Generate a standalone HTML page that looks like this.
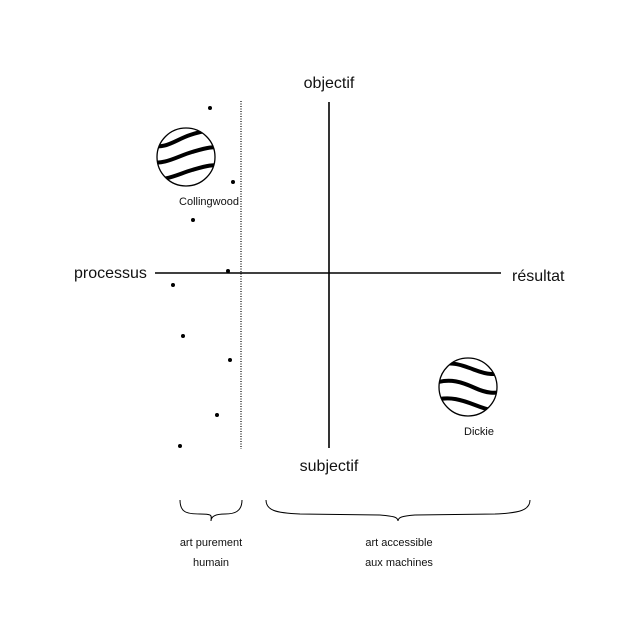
<!DOCTYPE html>
<html><head><style>body{margin:0;background:#fff}svg{display:block}text{font-family:"Liberation Sans",sans-serif;fill:#111}</style></head><body>
<svg width="642" height="642" viewBox="0 0 642 642">
<defs>
<clipPath id="c1"><circle cx="186" cy="157" r="29"/></clipPath>
<clipPath id="c2"><circle cx="468" cy="387" r="29"/></clipPath>
</defs>
<line x1="329" y1="102" x2="329" y2="448" stroke="#000" stroke-width="1.6"/>
<line x1="155" y1="273" x2="501" y2="273" stroke="#000" stroke-width="1.6"/>
<line x1="241" y1="101" x2="241" y2="449" stroke="#000" stroke-width="1.2" stroke-dasharray="1,1.5"/>
<g fill="#000">
<circle cx="210" cy="108" r="2"/><circle cx="233" cy="182" r="2"/><circle cx="193" cy="220" r="2"/>
<circle cx="228" cy="271" r="2"/><circle cx="173" cy="285" r="2"/><circle cx="183" cy="336" r="2"/>
<circle cx="230" cy="360" r="2"/><circle cx="217" cy="415" r="2"/><circle cx="180" cy="446" r="2"/>
</g>
<g clip-path="url(#c1)" fill="none" stroke="#000" stroke-width="4">
<path d="M150 145 C165 150,175 140,190 135 S210 130,225 132"/>
<path d="M150 162 C165 165,178 156,192 152 S212 146,225 148"/>
<path d="M150 178 C165 182,178 174,192 170 S212 164,225 166"/>
</g>
<circle cx="186" cy="157" r="29" fill="none" stroke="#000" stroke-width="1.3"/>
<g clip-path="url(#c2)" fill="none" stroke="#000" stroke-width="4">
<path d="M435 367 C450 360,462 365,475 370 S495 375,505 372"/>
<path d="M435 383 C450 378,462 382,475 388 S495 393,505 392"/>
<path d="M435 400 C450 396,462 400,475 405 S495 412,505 410"/>
</g>
<circle cx="468" cy="387" r="29" fill="none" stroke="#000" stroke-width="1.3"/>
<text x="329" y="88" font-size="16" text-anchor="middle">objectif</text>
<text x="329" y="471" font-size="16" text-anchor="middle">subjectif</text>
<text x="74" y="278" font-size="16">processus</text>
<text x="512" y="281" font-size="16">résultat</text>
<text x="209" y="205" font-size="11" text-anchor="middle">Collingwood</text>
<text x="479" y="435" font-size="11" text-anchor="middle">Dickie</text>
<path d="M180 500 C180 512,186 514,200 514 S211 516,211 521 C211 516,216 514,225 514 S242 512,242 500" fill="none" stroke="#000" stroke-width="1"/>
<path d="M266 500 C266 510,275 513,300 514 L380 515 C393 516,398 517,398 521 C398 517,403 516,415 515 L495 514 C520 513,530 510,530 500" fill="none" stroke="#000" stroke-width="1"/>
<text x="211" y="546" font-size="11" text-anchor="middle">art purement</text>
<text x="211" y="566" font-size="11" text-anchor="middle">humain</text>
<text x="399" y="546" font-size="11" text-anchor="middle">art accessible</text>
<text x="399" y="566" font-size="11" text-anchor="middle">aux machines</text>
</svg>
</body></html>
